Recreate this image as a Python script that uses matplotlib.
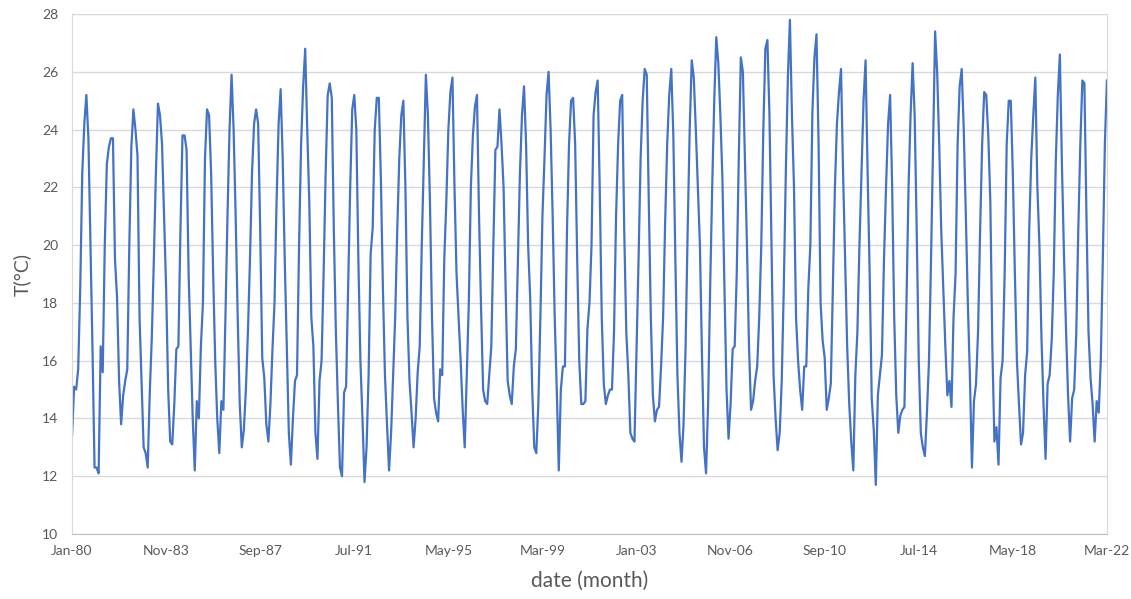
import numpy as np
import matplotlib
matplotlib.use("Agg")
from matplotlib import pyplot as plt

# monthly temperature, one row per year, Jan-1980 .. Mar-2022
t_1980s = [
    13.4, 15.1, 15.0, 15.7, 18.5, 22.5, 24.2, 25.2, 23.7, 20.0, 16.4, 12.3,
    12.3, 12.1, 16.5, 15.6, 20.0, 22.8, 23.4, 23.7, 23.7, 19.5, 18.2, 15.3,
    13.8, 14.8, 15.3, 15.7, 20.0, 23.4, 24.7, 24.0, 23.1, 17.5, 15.3, 13.0,
    12.8, 12.3, 14.9, 16.8, 19.5, 22.5, 24.9, 24.5, 23.5, 21.0, 18.5, 15.0,
    13.2, 13.1, 14.5, 16.4, 16.5, 20.5, 23.8, 23.8, 23.3, 19.0, 16.5, 14.0,
    12.2, 14.6, 14.0, 16.5, 18.0, 23.0, 24.7, 24.5, 22.5, 19.0, 16.0, 14.0,
    12.8, 14.6, 14.3, 17.5, 21.0, 24.0, 25.9, 24.0, 21.0, 17.5, 14.5, 13.0,
    13.6, 15.0, 17.0, 19.5, 22.5, 24.2, 24.7, 24.2, 20.5, 16.1, 15.4, 13.8,
    13.2, 14.5, 16.4, 18.0, 21.5, 24.2, 25.4, 23.0, 19.5, 16.5, 13.5, 12.4,
    14.0, 15.3, 15.5, 20.0, 23.5, 25.5, 26.8, 24.0, 21.5, 17.5, 16.5, 13.5,
]
t_1990s = [
    12.6, 15.3, 16.0, 19.0, 22.5, 25.2, 25.6, 25.1, 20.5, 17.0, 14.5, 12.3,
    12.0, 14.9, 15.1, 18.5, 22.0, 24.7, 25.2, 24.0, 19.5, 16.0, 14.0, 11.8,
    13.0, 15.5, 19.7, 20.6, 24.0, 25.1, 25.1, 22.3, 18.5, 15.5, 13.8, 12.2,
    13.5, 15.5, 17.5, 20.5, 23.0, 24.5, 25.0, 22.0, 17.5, 15.3, 14.2, 13.0,
    14.0, 15.6, 16.5, 20.0, 23.0, 25.9, 24.5, 21.5, 17.5, 14.7, 14.2, 13.9,
    15.7, 15.5, 19.5, 21.5, 24.0, 25.3, 25.8, 22.0, 19.0, 17.5, 16.0, 14.3,
    13.0, 15.5, 18.0, 22.0, 23.8, 24.8, 25.2, 21.0, 17.8, 15.0, 14.6, 14.5,
    15.5, 16.5, 20.0, 23.3, 23.4, 24.7, 23.5, 22.0, 18.5, 15.3, 14.8, 14.5,
    15.8, 16.4, 19.5, 22.5, 24.5, 25.5, 23.5, 20.0, 18.2, 15.0, 13.0, 12.8,
    14.5, 17.5, 21.0, 23.0, 25.2, 26.0, 24.0, 21.0, 17.5, 15.0, 12.2, 15.0,
]
t_2000s = [
    15.8, 15.8, 20.5, 23.5, 25.0, 25.1, 23.5, 19.5, 16.0, 14.5, 14.5, 14.6,
    17.1, 18.0, 20.0, 24.5, 25.3, 25.7, 22.0, 17.5, 15.2, 14.5, 14.8, 15.0,
    15.0, 17.0, 21.0, 23.5, 25.0, 25.2, 20.5, 17.0, 15.5, 13.5, 13.3, 13.2,
    16.4, 19.5, 23.0, 25.0, 26.1, 25.9, 21.5, 17.5, 14.8, 13.9, 14.3, 14.4,
    15.8, 17.5, 20.8, 23.5, 25.2, 26.1, 23.8, 19.5, 15.5, 13.5, 12.5, 13.8,
    16.5, 20.5, 24.0, 26.4, 25.8, 24.0, 22.0, 20.0, 16.2, 13.0, 12.1, 14.5,
    18.5, 22.0, 25.0, 27.2, 26.3, 24.5, 22.3, 18.5, 15.0, 13.3, 14.5, 16.4,
    16.5, 19.0, 23.0, 26.5, 26.0, 23.0, 20.0, 16.5, 14.3, 14.6, 15.3, 15.8,
    17.5, 20.0, 24.0, 26.8, 27.1, 24.5, 20.0, 15.5, 14.0, 12.9, 13.5, 15.3,
    18.5, 22.5, 25.8, 27.8, 24.5, 22.0, 17.5, 16.0, 15.0, 14.3, 15.8, 15.8,
]
t_2010s = [
    18.5, 20.0, 24.6, 26.5, 27.3, 23.6, 18.0, 16.7, 16.1, 14.3, 14.7, 15.2,
    18.5, 22.0, 24.2, 25.3, 26.1, 22.5, 19.5, 16.5, 14.5, 13.2, 12.2, 15.5,
    17.0, 20.0, 22.5, 25.0, 26.4, 22.5, 19.0, 14.7, 13.6, 11.7, 14.8, 15.5,
    16.2, 19.5, 22.0, 24.2, 25.2, 22.0, 17.5, 14.8, 13.5, 14.1, 14.3, 14.4,
    18.0, 22.0, 24.5, 26.3, 24.5, 20.5, 16.0, 13.5, 13.0, 12.7, 14.2, 16.0,
    19.5, 23.5, 27.4, 26.0, 23.5, 20.5, 18.5, 16.5, 14.8, 15.3, 14.4, 17.5,
    19.0, 23.5, 25.5, 26.1, 24.0, 21.1, 18.0, 15.5, 12.3, 14.6, 15.2, 17.0,
    20.5, 23.5, 25.3, 25.2, 23.8, 21.5, 16.4, 13.2, 13.7, 12.4, 15.4, 16.0,
    19.0, 23.5, 25.0, 25.0, 22.5, 19.0, 16.0, 14.5, 13.1, 13.5, 15.5, 16.3,
    20.5, 23.0, 24.5, 25.8, 22.0, 20.0, 16.8, 14.5, 12.6, 15.2, 15.5, 16.7,
]
t_2020s = [
    19.0, 22.9, 25.2, 26.6, 22.8, 19.7, 17.1, 14.8, 13.2, 14.7, 15.0, 16.9,
    20.5, 23.5, 25.7, 25.6, 21.0, 17.0, 15.4, 14.5, 13.2, 14.6, 14.2, 16.0,
    19.5, 23.5, 25.7,
]

tick_labels = ["Jan-80", "Nov-83", "Sep-87", "Jul-91", "May-95", "Mar-99",
               "Jan-03", "Nov-06", "Sep-10", "Jul-14", "May-18", "Mar-22"]

temp = np.array(t_1980s + t_1990s + t_2000s + t_2010s + t_2020s)
month = np.arange(len(temp))

plt.rcParams['font.family'] = ['Lato', 'DejaVu Sans']
grey = "#595959"

fig = plt.figure(figsize=(11.31, 5.99), dpi=100)
ax = fig.add_axes([0.0637, 0.1085, 0.915, 0.868])

ax.plot(month, temp, color="#4472C4", linewidth=1.6, solid_joinstyle="round")

ax.set_xlim(0, len(temp) - 1)
ax.set_ylim(10, 28)
ax.set_yticks(np.arange(10, 29, 2))
ax.set_xticks(np.arange(0, len(temp), 46))
ax.set_xticklabels(tick_labels)

ax.yaxis.grid(True, color="#D9D9D9", linewidth=1)
ax.set_axisbelow(True)
for side in ["top", "right", "left"]:
    ax.spines[side].set_color("#D9D9D9")
ax.spines["bottom"].set_color("#BFBFBF")
ax.tick_params(length=0, labelsize=10, colors=grey)
ax.tick_params(axis="x", pad=8)
ax.tick_params(axis="y", pad=10)

ax.set_xlabel("date (month)", fontsize=15, color=grey, labelpad=10)
ax.set_ylabel("T(°C)", fontsize=14, color=grey, labelpad=8)

fig.savefig("out.png", dpi=100)
